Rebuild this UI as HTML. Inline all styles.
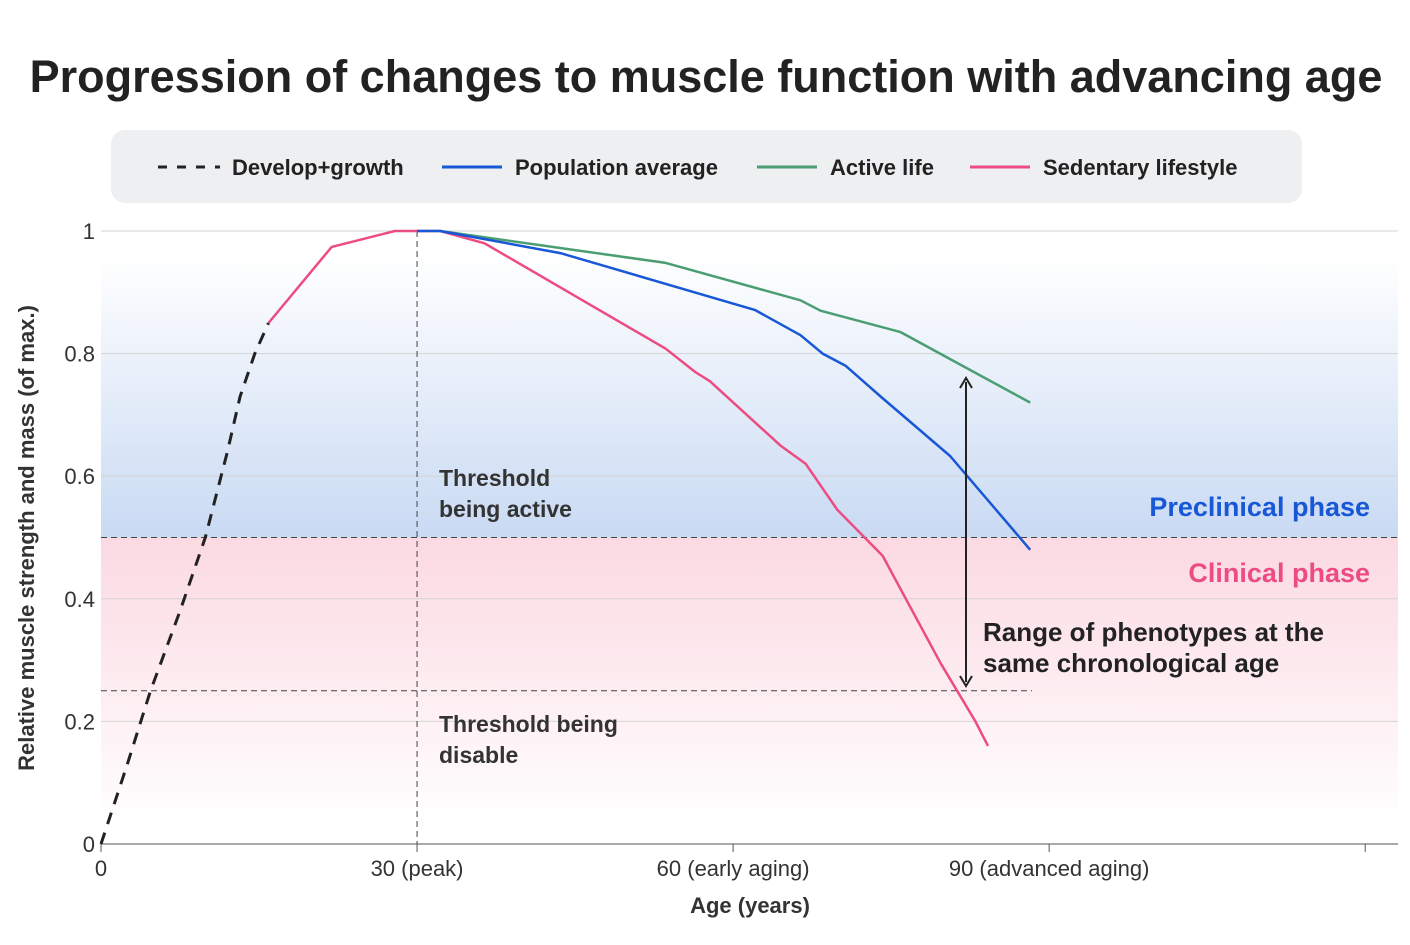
<!DOCTYPE html>
<html><head><meta charset="utf-8"><style>
body{margin:0;background:#fff;font-family:"Liberation Sans",sans-serif;}
</style></head><body>
<svg width="1410" height="940" xmlns="http://www.w3.org/2000/svg">
<defs>
<linearGradient id="gb" x1="0" y1="0" x2="0" y2="1"><stop offset="0" stop-color="#ffffff"/><stop offset="1" stop-color="#c9daf3"/></linearGradient>
<linearGradient id="gp" x1="0" y1="0" x2="0" y2="1"><stop offset="0" stop-color="#fbd9e2"/><stop offset="1" stop-color="#ffffff"/></linearGradient>
</defs>
<text x="706" y="92" text-anchor="middle" font-size="45" font-weight="bold" fill="#222">Progression of changes to muscle function with advancing age</text>
<g>
<rect x="111" y="130" width="1191" height="73" rx="14" fill="#eeeff1"/>
<line x1="158" y1="167" x2="220" y2="167" stroke="#222" stroke-width="3" stroke-dasharray="9,10"/>
<text x="232" y="175" font-size="22" font-weight="bold" fill="#222">Develop+growth</text>
<line x1="442" y1="167" x2="502" y2="167" stroke="#1857d6" stroke-width="3"/>
<text x="515" y="175" font-size="22" font-weight="bold" fill="#222">Population average</text>
<line x1="757" y1="167" x2="817" y2="167" stroke="#4a9e72" stroke-width="3"/>
<text x="830" y="175" font-size="22" font-weight="bold" fill="#222">Active life</text>
<line x1="970" y1="167" x2="1030" y2="167" stroke="#ec4c82" stroke-width="3"/>
<text x="1043" y="175" font-size="22" font-weight="bold" fill="#222">Sedentary lifestyle</text>
</g>
<g id="plot"></g>
</svg>
<script>
const devX=[0,2.5,4.7,7.5,9.9,12,13.2,14.6,15.9];
const devY=[0,0.13,0.25,0.38,0.5,0.64,0.73,0.8,0.85];
const sedX=[15.9,21.9,27.9,32.2,36.4,53.6,56.4,57.8,64.5,66.9,69.9,74.2,79.7,83,84.2];
const sedY=[0.85,0.974,1,1,0.98,0.808,0.77,0.755,0.65,0.62,0.545,0.47,0.295,0.2,0.16];
const popX=[30,32.2,43.6,62.1,66.4,68.5,70.7,74,80.6,88.2];
const popY=[1,1,0.964,0.871,0.83,0.8,0.78,0.73,0.633,0.48];
const actX=[32.2,53.6,66.4,68.3,75.9,82,88.2];
const actY=[1,0.948,0.887,0.87,0.835,0.778,0.72];
const yTicks=[0,0.2,0.4,0.6,0.8,1];
const yTickLabels=["0","0.2","0.4","0.6","0.8","1"];
const xTicks=[0,30,60,90,120];
const xTickLabels=["0","30 (peak)","60 (early aging)","90 (advanced aging)",""];
const thresholds=[0.5,0.25];
const xs=v=>101+v*10.535, ys=v=>844-v*613;
const NS="http://www.w3.org/2000/svg", g=document.getElementById('plot');
function mk(t,a,txt){const e=document.createElementNS(NS,t);for(const k in a)e.setAttribute(k,a[k]);if(txt!==undefined)e.textContent=txt;g.appendChild(e);return e;}
let e;
e=mk('rect',{x:101,y:ys(0.96),width:1297,height:ys(0.5)-ys(0.96),fill:'url(#gb)'});


e=mk('rect',{x:101,y:ys(0.5),width:1297,height:ys(0.03)-ys(0.5),fill:'url(#gp)'});


yTicks.forEach((v,i)=>{
 if(v>0){e=mk('line',{x1:101,x2:1398,y1:ys(v),y2:ys(v),stroke:'#d4d4d4','stroke-width':1});
 
 }
 e=mk('text',{x:95,y:ys(v)+8,'text-anchor':'end','font-size':22,fill:'#333'},yTickLabels[i]);
 
 
});
e=mk('line',{x1:101,x2:1398,y1:844,y2:844,stroke:'#555','stroke-width':1});


xTicks.forEach((v,i)=>{
 e=mk('line',{x1:xs(v),x2:xs(v),y1:844,y2:852,stroke:'#555'});
 
 
 e=mk('text',{x:xs(v),y:876,'text-anchor':'middle','font-size':22,fill:'#333'},xTickLabels[i]);
 
 
});
e=mk('text',{x:750,y:913,'text-anchor':'middle','font-size':22,'font-weight':'bold',fill:'#333'},'Age (years)');


e=mk('text',{x:34,y:538,'text-anchor':'middle','font-size':22,'font-weight':'bold',fill:'#333',transform:'rotate(-90 34 538)'},'Relative muscle strength and mass (of max.)');


e=mk('line',{x1:xs(30),x2:xs(30),y1:ys(1),y2:844,stroke:'#444','stroke-dasharray':'6,4'});


e=mk('line',{x1:101,x2:1398,y1:ys(thresholds[0]),y2:ys(thresholds[0]),stroke:'#444','stroke-dasharray':'6,4'});


e=mk('line',{x1:101,x2:1032,y1:ys(thresholds[1]),y2:ys(thresholds[1]),stroke:'#444','stroke-dasharray':'6,4'});


function line(X,Y,c,name,dash){const d=X.map((x,i)=>(i?'L':'M')+xs(x).toFixed(1)+','+ys(Y[i]).toFixed(1)).join('');
 const p=mk('path',{d:d,fill:'none',stroke:c,'stroke-width':dash?3:2.5,'stroke-dasharray':dash||'none','stroke-linejoin':'round'});
 
 }
line(devX,devY,'#222','develop-growth-line','12,9');
line(sedX,sedY,'#ec4c82','sedentary-line');
line(actX,actY,'#4a9e72','active-line');
line(popX,popY,'#1857d6','population-line');
e=mk('line',{x1:966,x2:966,y1:382,y2:682,stroke:'#222','stroke-width':2});


mk('path',{d:'M960,388L966,378L972,388',fill:'none',stroke:'#222','stroke-width':2});
mk('path',{d:'M960,676L966,686L972,676',fill:'none',stroke:'#222','stroke-width':2});
const labels=[[439,486,'Threshold','#333',23,'start'],[439,517,'being active','#333',23,'start'],[439,732,'Threshold being','#333',23,'start'],[439,763,'disable','#333',23,'start'],
[1370,516,'Preclinical phase','#1857d6',27,'end'],[1370,582,'Clinical phase','#ec4c82',27,'end'],[983,641,'Range of phenotypes at the','#222',26,'start'],[983,672,'same chronological age','#222',26,'start']];
labels.forEach(l=>{e=mk('text',{x:l[0],y:l[1],'text-anchor':l[5],'font-size':l[4],'font-weight':'bold',fill:l[3]},l[2]);
 
 });
</script>
</body></html>
